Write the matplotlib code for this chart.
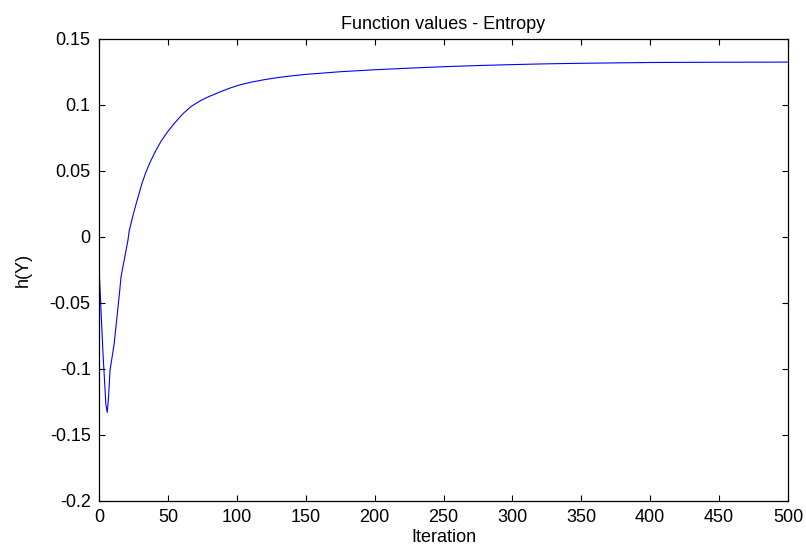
import matplotlib
matplotlib.use("Agg")
import matplotlib.pyplot as plt

plt.rcParams['font.family'] = ['Liberation Sans', 'DejaVu Sans']
plt.rcParams['axes.unicode_minus'] = False

iterations = [0, 2, 3, 5, 6, 7, 8, 11, 13, 15, 16, 21, 22, 25, 28, 31, 34, 37, 41,
              45, 50, 55, 61, 67, 74, 80, 88, 95, 102, 110, 120, 130, 140, 150, 175,
              200, 225, 250, 275, 300, 325, 350, 375, 400, 450, 500]
entropy = [-0.0228, -0.068, -0.090, -0.127, -0.1329, -0.120, -0.101, -0.081, -0.061,
           -0.041, -0.030, -0.0025, 0.005, 0.0178, 0.029, 0.040, 0.049, 0.0565,
           0.065, 0.0725, 0.080, 0.0865, 0.0935, 0.099, 0.1035, 0.1065, 0.110,
           0.1128, 0.1152, 0.1172, 0.1192, 0.1208, 0.1221, 0.1232, 0.1252, 0.1267,
           0.1279, 0.1290, 0.1299, 0.1306, 0.1312, 0.1316, 0.1319, 0.1322, 0.1324,
           0.1325]

xticks = [0, 50, 100, 150, 200, 250, 300, 350, 400, 450, 500]
yticks = [-0.2, -0.15, -0.1, -0.05, 0, 0.05, 0.1, 0.15]
ytick_labels = ['-0.2', '-0.15', '-0.1', '-0.05', '0', '0.05', '0.1', '0.15']

title = 'Function values - Entropy'
xlabel = 'Iteration'
ylabel = 'h(Y)'

fig = plt.figure(figsize=(8.06, 5.49), dpi=100)
ax = fig.add_axes([99/806, 1 - 501/549, (788 - 99)/806, (501 - 39)/549])

ax.plot(iterations, entropy, color=(0, 0, 1), linewidth=0.8)

ax.set_xlim(0, 500)
ax.set_ylim(-0.2, 0.15)
ax.set_xticks(xticks)
ax.set_xticklabels([str(t) for t in xticks])
ax.set_yticks(yticks)
ax.set_yticklabels(ytick_labels)

fs = 13
ax.tick_params(direction='in', length=4, width=0.8, top=True, right=True,
               labelsize=fs, pad=6, colors='black')
for s in ax.spines.values():
    s.set_linewidth(0.9)
    s.set_color('black')

ax.set_title(title, fontsize=fs, pad=7)
ax.set_xlabel(xlabel, fontsize=fs, labelpad=2)
ax.set_ylabel(ylabel, fontsize=fs, labelpad=13)

fig.savefig('out.png', dpi=100)
